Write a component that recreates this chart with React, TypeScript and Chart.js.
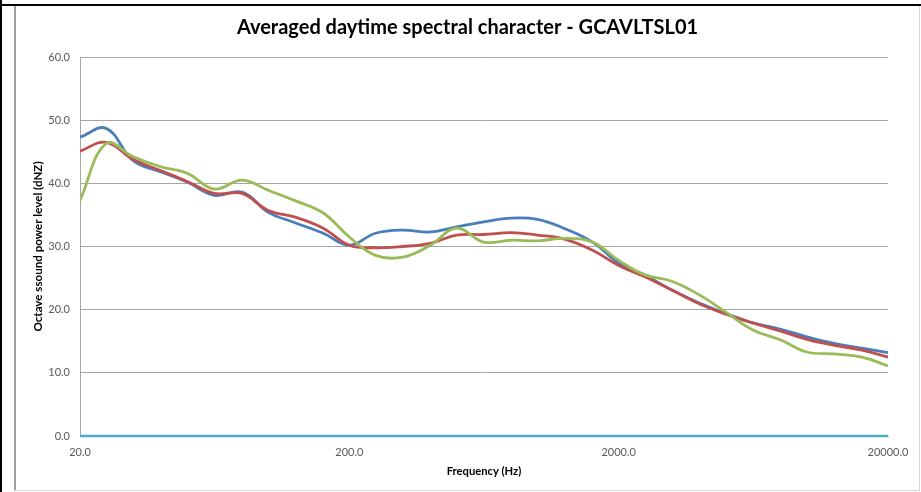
import React, { useEffect, useRef } from "react";
import { Chart, registerables } from "chart.js";

Chart.register(...registerables);

const frequencies = [20, 25, 31.5, 40, 50, 63, 80, 100, 125, 160, 200, 250, 315, 400, 500, 630, 800, 1000, 1250, 1600, 2000, 2500, 3150, 4000, 5000, 6300, 8000, 10000, 12500, 16000, 20000];
const seriesBlue = [47.3, 48.7, 43.6, 41.8, 40.2, 38.1, 38.6, 35.4, 33.8, 32.1, 30.2, 32.1, 32.6, 32.3, 33.1, 33.9, 34.5, 34.3, 32.9, 30.7, 27.4, 25.5, 23.1, 21.0, 19.4, 17.9, 16.9, 15.7, 14.7, 13.9, 13.2];
const seriesRed = [45.1, 46.5, 43.8, 42.0, 40.3, 38.4, 38.4, 35.7, 34.7, 32.9, 30.2, 29.8, 30.0, 30.5, 31.8, 31.9, 32.2, 31.8, 31.2, 29.4, 27.0, 25.2, 23.1, 20.9, 19.3, 17.9, 16.6, 15.3, 14.4, 13.6, 12.5];
const seriesGreen = [37.3, 46.3, 44.2, 42.6, 41.6, 39.1, 40.5, 38.9, 37.3, 35.3, 31.5, 28.6, 28.3, 30.2, 32.9, 30.7, 31.0, 30.9, 31.3, 30.7, 27.8, 25.5, 24.5, 22.3, 19.6, 16.8, 15.2, 13.3, 13.0, 12.5, 11.1];
const seriesCyan = [0, 0, 0, 0, 0, 0, 0, 0, 0, 0, 0, 0, 0, 0, 0, 0, 0, 0, 0, 0, 0, 0, 0, 0, 0, 0, 0, 0, 0, 0, 0];
const xTickValues = [20, 200, 2000, 20000];

const FONT = "Lato, 'Noto Sans', sans-serif";

function toPoints(values: number[]) {
  return frequencies.map((f, i) => ({ x: f, y: values[i] }));
}

export default function App() {
  const ref = useRef<HTMLCanvasElement | null>(null);

  useEffect(() => {
    if (!ref.current) return;
    const mk = (label: string, values: number[], color: string, width: number, clip?: any) => ({
      label,
      data: toPoints(values),
      borderColor: color,
      backgroundColor: color,
      borderWidth: width,
      pointRadius: 0,
      showLine: true,
      tension: 0.4,
      fill: false,
      ...(clip !== undefined ? { clip } : {}),
    });
    const chart = new Chart(ref.current, {
      type: "scatter",
      data: {
        datasets: [
          mk("Series 4", seriesCyan, "#4BACC6", 2.5, false),
          mk("Series 3", seriesGreen, "#9BBB59", 2.8),
          mk("Series 2", seriesRed, "#C0504D", 2.8),
          mk("Series 1", seriesBlue, "#4A7EBB", 2.8),
        ],
      },
      options: {
        animation: false,
        responsive: false,
        maintainAspectRatio: false,
        layout: { padding: { left: 0, right: 0, top: 0, bottom: 0 } },
        plugins: {
          legend: { display: false },
          tooltip: { enabled: false },
          title: {
            display: true,
            text: "Averaged daytime spectral character - GCAVLTSL01",
            color: "#000000",
            font: { family: FONT, size: 20, weight: "bold" },
            padding: { top: 10, bottom: 17 },
          },
        },
        scales: {
          x: {
            type: "logarithmic",
            min: 20,
            max: 20000,
            afterBuildTicks: (scale: any) => {
              scale.ticks = xTickValues.map((v) => ({ value: v }));
            },
            afterFit: (scale: any) => {
              scale.height = 54;
            },
            grid: { display: false, drawTicks: false },
            border: { display: true, color: "#A6A6A6", width: 1 },
            ticks: {
              autoSkip: false,
              maxRotation: 0,
              padding: 10,
              color: "#595959",
              font: { family: FONT, size: 11 },
              callback: (v: any) => Number(v).toFixed(1),
            },
            title: {
              display: true,
              text: "Frequency (Hz)",
              color: "#000000",
              font: { family: FONT, size: 11.2, weight: "bold" },
              padding: { top: 0, bottom: 12 },
            },
          },
          y: {
            min: 0,
            max: 60,
            afterFit: (scale: any) => {
              scale.width = 64;
            },
            grid: { color: "#A6A6A6", lineWidth: 1, drawTicks: false },
            border: { display: true, color: "#A6A6A6", width: 1 },
            ticks: {
              stepSize: 10,
              padding: 10,
              color: "#595959",
              font: { family: FONT, size: 11 },
              callback: (v: any) => Number(v).toFixed(1),
            },
            title: {
              display: true,
              text: "Octave ssound power level (dNZ)",
              color: "#000000",
              font: { family: FONT, size: 11.6, weight: "bold" },
              padding: { top: 15, bottom: 0 },
            },
          },
          yRightSpace: {
            position: "right",
            min: 0,
            max: 60,
            afterFit: (scale: any) => {
              scale.width = 31;
            },
            grid: { display: false, drawTicks: false },
            border: { display: false },
            ticks: { display: false },
          },
        },
      },
    } as any);
    return () => chart.destroy();
  }, []);

  return (
    <div style={{ position: "fixed", left: 0, top: 0, width: 921, height: 492, background: "#ffffff", overflow: "hidden" }}>
      <div style={{ position: "absolute", left: 0, top: 0, width: 2, height: 492, background: "#000" }} />
      <div style={{ position: "absolute", left: 0, top: 4, width: 921, height: 2, background: "#000" }} />
      <div style={{ position: "absolute", left: 14, top: 6, width: 2, height: 485, background: "#A0A0A0" }} />
      <div style={{ position: "absolute", left: 14, top: 490, width: 906, height: 1, background: "#D9D9D9" }} />
      <div style={{ position: "absolute", left: 919, top: 6, width: 1, height: 485, background: "#D9D9D9" }} />
      <canvas ref={ref} width={903} height={484} style={{ position: "absolute", left: 16, top: 6, width: 903, height: 484 }} />
    </div>
  );
}
